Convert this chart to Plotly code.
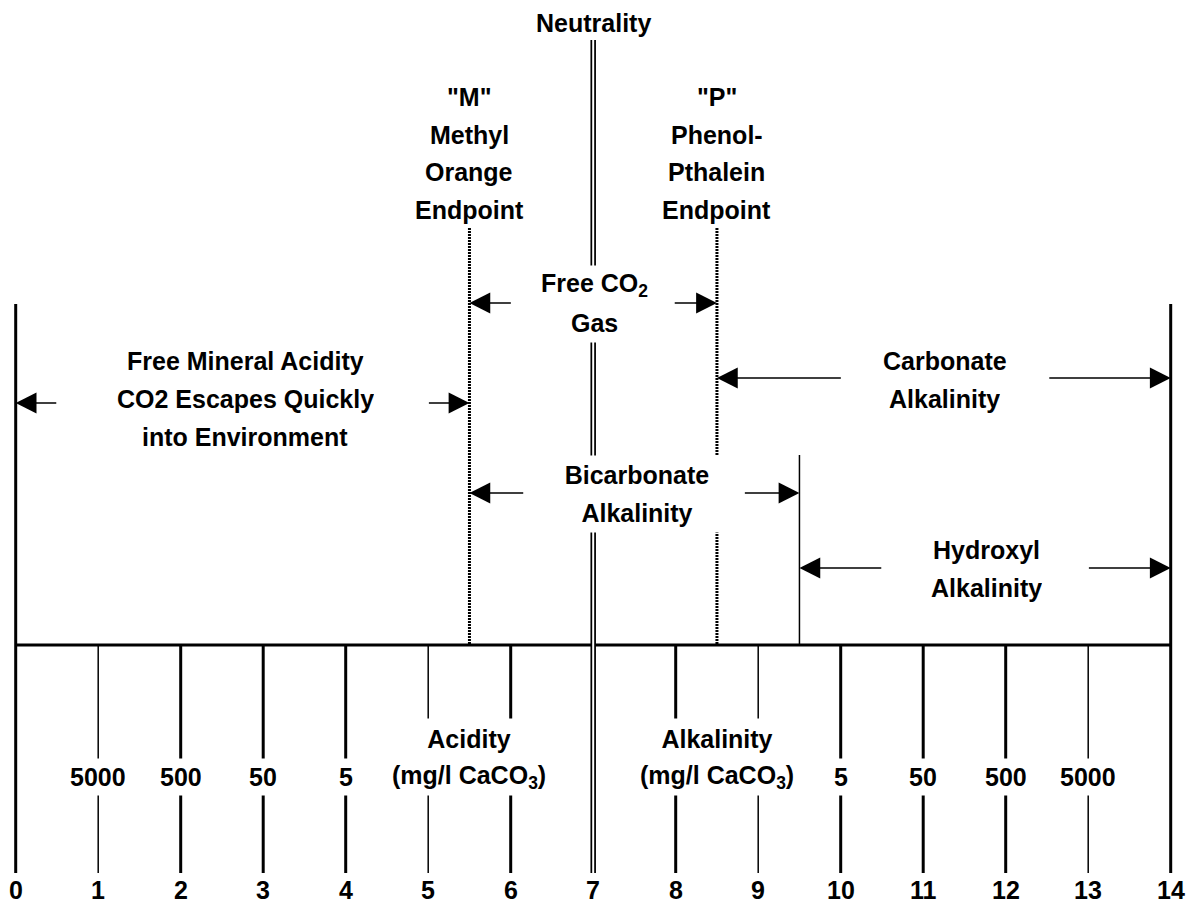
import plotly.graph_objects as go

# ---------------- data ----------------
ph_values = list(range(15))
acid_conc_ph = [1, 2, 3, 4]
acid_conc_labels = ["5000", "500", "50", "5"]
alk_conc_ph = [10, 11, 12, 13]
alk_conc_labels = ["5", "50", "500", "5000"]
thin_tick_ph = [1, 5, 9, 13]
neutral_ph = 7
m_endpoint_ph = 5.5
p_endpoint_ph = 8.5
hydroxyl_start_ph = 9.5
m_label = ['"M"', "Methyl", "Orange", "Endpoint"]
p_label = ['"P"', "Phenol-", "Pthalein", "Endpoint"]
acidity_title = ["Acidity", "(mg/l CaCO<sub>3</sub>)"]
alkalinity_title = ["Alkalinity", "(mg/l CaCO<sub>3</sub>)"]
zone_names = [
    ["Free Mineral Acidity", "CO2 Escapes Quickly", "into Environment"],
    ["Free CO<sub>2</sub>", "Gas"],
    ["Carbonate", "Alkalinity"],
    ["Bicarbonate", "Alkalinity"],
    ["Hydroxyl", "Alkalinity"],
]
zone_start = [0, 5.5, 8.5, 5.5, 9.5]
zone_end = [5.5, 8.5, 14, 9.5, 14]

# ---------------- layout / style (pixel-based y) ----------------
W, H = 1196, 903
OFF = 8                        # page body margin of the html page
PX0, PXU = 15.7, 82.5          # pixel of pH 0, pixels per pH unit
AXIS_Y = 645
TICK_BOTTOM = 873
BORDER_TOP = 304
NEUTRAL_TOP = 40
DOT_TOP = 228
HYD_TOP = 455
FONT = "Liberation Sans, Arial, sans-serif"
FS = 25
LINE_H = 38

# per zone: label centre (pH), first line y, arrow y, left tail, right tail
zone_style = [
    dict(cx=2.78, y0=361, ay=403, lt=0.51, rt=4.99, w=None),
    dict(cx=7.02, y0=285, ay=303, lt=6.02, rt=7.97, w=None),
    dict(cx=11.26, y0=361, ay=378, lt=10.02, rt=12.51, w=None),
    dict(cx=7.53, y0=475, ay=493, lt=6.17, rt=8.82, w=186),
    dict(cx=11.77, y0=550, ay=568, lt=10.51, rt=12.99, w=None),
]

fig = go.Figure()


def seg(x0, x1, y0, y1, width, color="black", dash="solid"):
    fig.add_trace(go.Scatter(x=[x0, x1], y=[y0, y1], mode="lines",
                             line=dict(color=color, width=width, dash=dash),
                             hoverinfo="skip", showlegend=False))


annotations = []


def txt(x, y, s, width=None, height=None, size=FS):
    a = dict(x=x, y=y, xref="x", yref="y", text="<b>" + s + "</b>",
             showarrow=False, bgcolor="white", borderpad=0,
             font=dict(family=FONT, size=size, color="black"),
             xanchor="center", yanchor="middle")
    if width:
        a["width"] = width
    if height:
        a["height"] = height
    annotations.append(a)


def arrow(tip, tail, y):
    annotations.append(dict(x=tip, y=y, ax=tail, ay=y, xref="x", yref="y",
                            axref="x", ayref="y", text="", showarrow=True,
                            arrowhead=2, arrowsize=2.6, arrowwidth=1.6,
                            arrowcolor="black"))


# axis baseline and border lines
seg(ph_values[0], ph_values[-1], AXIS_Y, AXIS_Y, 3)
seg(ph_values[0], ph_values[0], BORDER_TOP, TICK_BOTTOM, 3)
seg(ph_values[-1], ph_values[-1], BORDER_TOP, TICK_BOTTOM, 3)

# pH ticks
for p in ph_values[1:-1]:
    if p == neutral_ph:
        continue
    seg(p, p, AXIS_Y, TICK_BOTTOM, 1.5 if p in thin_tick_ph else 3)

# neutrality double line
seg(neutral_ph, neutral_ph, NEUTRAL_TOP, TICK_BOTTOM, 5.5)
seg(neutral_ph, neutral_ph, NEUTRAL_TOP - 1, TICK_BOTTOM + 1, 2, color="white")

# endpoint dotted lines
for p in (m_endpoint_ph, p_endpoint_ph):
    seg(p, p, DOT_TOP, AXIS_Y, 3, dash="2px,1px")
# hydroxyl start
seg(hydroxyl_start_ph, hydroxyl_start_ph, HYD_TOP, AXIS_Y, 1.5)

# pH numbers
for p in ph_values:
    txt(p, 890, str(p))

# concentration labels
for p, lab in zip(acid_conc_ph + alk_conc_ph, acid_conc_labels + alk_conc_labels):
    txt(p, 777, lab, height=36)

# acidity / alkalinity titles
for cx, lines in ((m_endpoint_ph, acidity_title), (p_endpoint_ph, alkalinity_title)):
    txt(cx, 739, lines[0], width=120, height=40)
    txt(cx, 777, lines[1], height=36)

# top labels
txt(neutral_ph, 23, "Neutrality")
for cx, lines in ((m_endpoint_ph, m_label), (p_endpoint_ph, p_label)):
    for i, s in enumerate(lines):
        txt(cx, 97 + i * 37.7, s)

# zones
for names, s, e, st in zip(zone_names, zone_start, zone_end, zone_style):
    for i, nm in enumerate(names):
        txt(st["cx"], st["y0"] + i * LINE_H, nm, width=st["w"], height=LINE_H)
for names, s, e, st in zip(zone_names, zone_start, zone_end, zone_style):
    arrow(s, st["lt"], st["ay"])
    arrow(e, st["rt"], st["ay"])

fig.update_layout(
    width=W - OFF, height=H - OFF, autosize=False,
    margin=dict(l=0, r=0, t=0, b=0),
    paper_bgcolor="white", plot_bgcolor="white",
    xaxis=dict(range=[(OFF - PX0) / PXU, (W - PX0) / PXU], visible=False, fixedrange=True),
    yaxis=dict(range=[H, OFF], visible=False, fixedrange=True),
    annotations=annotations,
    showlegend=False,
)

fig.write_html("out.html", config={"displayModeBar": False})
